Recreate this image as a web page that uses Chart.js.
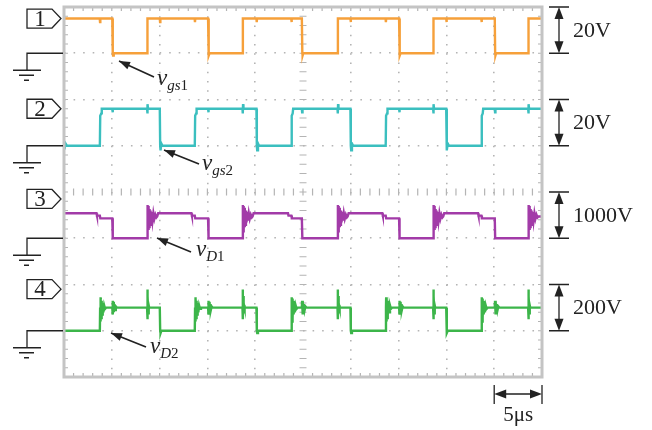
<!DOCTYPE html>
<html>
<head>
<meta charset="utf-8">
<script src="https://cdn.jsdelivr.net/npm/chart.js@4.4.0/dist/chart.umd.min.js"></script>
<style>
  body { margin: 0; background: #fff; }
  #wrap { width: 652px; height: 430px; position: relative; }
</style>
</head>
<body>
<div id="wrap"><canvas id="scope"></canvas></div>
<script>
// time axis: 10 div x 5us, vertical: 8 div
var timeTicks = [0, 5, 10, 15, 20, 25, 30, 35, 40, 45, 50];
var channelNames = ["1", "2", "3", "4"];
var scaleLabels = ["20V", "20V", "1000V", "200V"];
var voltsPerDiv = [20, 20, 1000, 200];
var groundDiv = [7, 5, 3, 1];
var markerDiv = [7.75, 5.8, 3.85, 1.9];
var colors = ["#F6A03A", "#3BBFBF", "#A23BA8", "#3CB54A"];

// [time us, volts]
var vgs1 = [
  [0,15],[3.74,15],[3.77,13.5],[3.8,15],
  [5.05,15],[5.1,0],[5.13,-1],[5.2,0],[8.69,0],[8.73,15],
  [10.02,15],[10.05,13.5],[10.08,15],
  [13.67,15],[13.7,13.5],[13.73,15],
  [15.07,15],[15.12,0],[15.15,-1],[15.22,0],[18.67,0],[18.71,15],
  [20.13,15],[20.16,13.5],[20.19,15],
  [23.77,15],[23.8,13.5],[23.83,15],
  [24.88,15],[24.93,0],[24.96,-1],[25.03,0],[28.61,0],[28.65,15],
  [29.96,15],[29.99,13.5],[30.02,15],
  [33.64,15],[33.67,13.5],[33.7,15],
  [35.05,15],[35.1,0],[35.13,-1],[35.2,0],[38.61,0],[38.65,15],
  [39.98,15],[40.01,13.5],[40.04,15],
  [43.65,15],[43.68,13.5],[43.71,15],
  [45.06,15],[45.1,0],[45.13,-1],[45.2,0],[48.55,0],[48.59,15],[50,15]
];

var vgs2 = [
  [0,0],[0.05,-1.5],[0.15,1],[0.3,0],
  [3.75,0],[3.79,13],[3.9,14],[3.95,16],
  [5.05,16],[5.08,14.5],[5.12,16],
  [8.69,16],[8.72,14],[8.75,18],[8.79,16],
  [10.02,16],[10.06,0],[10.1,-2],[10.18,1],[10.3,0],
  [13.68,0],[13.72,13],[13.82,14],[13.87,16],
  [15.07,16],[15.1,14.5],[15.14,16],
  [18.67,16],[18.7,14],[18.73,18],[18.77,16],
  [20.13,16],[20.17,0],[20.21,-2],[20.29,1],[20.4,0],
  [23.78,0],[23.82,13],[23.92,14],[23.97,16],
  [24.88,16],[24.91,14.5],[24.95,16],
  [28.61,16],[28.64,14],[28.67,18],[28.71,16],
  [29.96,16],[30.0,0],[30.04,-2],[30.12,1],[30.25,0],
  [33.65,0],[33.69,13],[33.79,14],[33.84,16],
  [35.05,16],[35.08,14.5],[35.12,16],
  [38.61,16],[38.64,14],[38.67,18],[38.71,16],
  [39.98,16],[40.02,0],[40.06,-2],[40.14,1],[40.27,0],
  [43.66,0],[43.7,13],[43.8,14],[43.85,16],
  [45.06,16],[45.09,14.5],[45.13,16],
  [48.55,16],[48.58,14],[48.61,18],[48.65,16],
  [50,16]
];

var vD1 = [
  [0,540],[3.4,540],[3.45,490],[3.75,490],[3.8,430],[5.05,430],[5.1,0],
  [8.69,0],[8.72,300],[8.74,720],[8.77,150],[8.8,700],[8.83,180],[8.87,660],[8.91,240],[8.95,630],[9.0,290],[9.05,600],[9.11,340],[9.18,570],[9.26,380],[9.35,540],[9.45,420],[9.56,510],[9.67,450],[9.75,470],[9.85,540],
  [13.33,540],[13.38,490],[13.68,490],[13.73,430],[15.07,430],[15.12,0],
  [18.67,0],[18.7,300],[18.72,720],[18.75,150],[18.78,700],[18.81,180],[18.85,660],[18.89,240],[18.93,630],[18.98,290],[19.03,600],[19.09,340],[19.16,570],[19.24,380],[19.33,540],[19.43,420],[19.54,510],[19.65,450],[19.73,470],[19.83,540],
  [23.43,540],[23.48,490],[23.78,490],[23.83,430],[24.88,430],[24.93,0],
  [28.61,0],[28.64,300],[28.66,720],[28.69,150],[28.72,700],[28.75,180],[28.79,660],[28.83,240],[28.87,630],[28.92,290],[28.97,600],[29.03,340],[29.1,570],[29.18,380],[29.27,540],[29.37,420],[29.48,510],[29.59,450],[29.67,470],[29.77,540],
  [33.3,540],[33.35,490],[33.65,490],[33.7,430],[35.05,430],[35.1,0],
  [38.61,0],[38.64,300],[38.66,720],[38.69,150],[38.72,700],[38.75,180],[38.79,660],[38.83,240],[38.87,630],[38.92,290],[38.97,600],[39.03,340],[39.1,570],[39.18,380],[39.27,540],[39.37,420],[39.48,510],[39.59,450],[39.67,470],[39.77,540],
  [43.31,540],[43.36,490],[43.66,490],[43.71,430],[45.06,430],[45.1,0],
  [48.55,0],[48.58,300],[48.6,720],[48.63,150],[48.66,700],[48.69,180],[48.73,660],[48.77,240],[48.81,630],[48.86,290],[48.91,600],[48.97,340],[49.04,570],[49.12,380],[49.21,540],[49.31,420],[49.42,510],[49.53,450],[49.61,470],[50,470]
];

var vD2 = [
  [0,0],
  [3.75,0],[3.78,100],[3.8,145],[3.83,40],[3.86,140],[3.9,55],[3.94,130],[3.99,70],[4.05,120],[4.12,80],[4.2,110],[4.3,95],[4.4,100],
  [5.05,100],[5.08,130],[5.12,70],[5.16,125],[5.21,80],[5.27,115],[5.34,90],[5.42,105],[5.52,100],
  [8.69,100],[8.71,178],[8.74,50],[8.77,150],[8.81,75],[8.86,110],[8.91,100],
  [10.02,100],[10.06,0],[10.1,-10],[10.18,0],
  [13.68,0],[13.71,100],[13.73,145],[13.76,40],[13.79,140],[13.83,55],[13.87,130],[13.92,70],[13.98,120],[14.05,80],[14.13,110],[14.23,95],[14.33,100],
  [15.07,100],[15.1,130],[15.14,70],[15.18,125],[15.23,80],[15.29,115],[15.36,90],[15.44,105],[15.54,100],
  [18.67,100],[18.69,178],[18.72,50],[18.75,150],[18.79,75],[18.84,110],[18.89,100],
  [20.13,100],[20.17,0],[20.21,-10],[20.29,0],
  [23.78,0],[23.81,100],[23.83,145],[23.86,40],[23.89,140],[23.93,55],[23.97,130],[24.02,70],[24.08,120],[24.15,80],[24.23,110],[24.33,95],[24.43,100],
  [24.88,100],[24.91,130],[24.95,70],[24.99,125],[25.04,80],[25.1,115],[25.17,90],[25.25,105],[25.35,100],
  [28.61,100],[28.63,178],[28.66,50],[28.69,150],[28.73,75],[28.78,110],[28.83,100],
  [29.96,100],[30.0,0],[30.04,-10],[30.12,0],
  [33.65,0],[33.68,100],[33.7,145],[33.73,40],[33.76,140],[33.8,55],[33.84,130],[33.89,70],[33.95,120],[34.02,80],[34.1,110],[34.2,95],[34.3,100],
  [35.05,100],[35.08,130],[35.12,70],[35.16,125],[35.21,80],[35.27,115],[35.34,90],[35.42,105],[35.52,100],
  [38.61,100],[38.63,178],[38.66,50],[38.69,150],[38.73,75],[38.78,110],[38.83,100],
  [39.98,100],[40.02,0],[40.06,-10],[40.14,0],
  [43.66,0],[43.69,100],[43.71,145],[43.74,40],[43.77,140],[43.81,55],[43.85,130],[43.9,70],[43.96,120],[44.03,80],[44.11,110],[44.21,95],[44.31,100],
  [45.06,100],[45.09,130],[45.13,70],[45.17,125],[45.22,80],[45.28,115],[45.35,90],[45.43,105],[45.53,100],
  [48.55,100],[48.57,178],[48.6,50],[48.63,150],[48.67,75],[48.72,110],[48.77,100],
  [50,100]
];

var traces = [vgs1, vgs2, vD1, vD2];
var serif = '"Liberation Serif", "Times New Roman", serif';
var gridGray = "#b4b4b4";

function toDiv(pts, i) {
  return pts.map(function (p) { return { x: p[0], y: groundDiv[i] + p[1] / voltsPerDiv[i] }; });
}

function head(ctx, x1, y1, x2, y2, len, w) {
  var a = Math.atan2(y2 - y1, x2 - x1);
  ctx.beginPath();
  ctx.moveTo(x2, y2);
  ctx.lineTo(x2 - len * Math.cos(a) + w * Math.sin(a), y2 - len * Math.sin(a) - w * Math.cos(a));
  ctx.lineTo(x2 - len * Math.cos(a) - w * Math.sin(a), y2 - len * Math.sin(a) + w * Math.cos(a));
  ctx.closePath();
  ctx.fill();
}

function pointer(ctx, x1, y1, x2, y2) {
  ctx.beginPath(); ctx.moveTo(x1, y1); ctx.lineTo(x2, y2); ctx.stroke();
  head(ctx, x1, y1, x2, y2, 11, 4);
}

function vlabel(ctx, x, y, sub, num) {
  ctx.font = "italic 23px " + serif;
  ctx.fillText("v", x, y);
  var w = ctx.measureText("v").width;
  ctx.font = "italic 15px " + serif;
  ctx.fillText(sub, x + w, y + 5);
  var w2 = ctx.measureText(sub).width;
  ctx.font = "15px " + serif;
  ctx.fillText(num, x + w + w2, y + 5);
}

var scopeDecor = {
  id: "scopeDecor",
  beforeDatasetsDraw: function (chart) {
    var ctx = chart.ctx, a = chart.chartArea, x = chart.scales.x, y = chart.scales.y;
    var yc = y.getPixelForValue(4), xc = x.getPixelForValue(25);
    ctx.save();
    ctx.strokeStyle = gridGray;
    ctx.lineWidth = 1.2;
    ctx.beginPath();
    for (var t = 0; t <= 50; t += 1) {
      var px = x.getPixelForValue(t);
      ctx.moveTo(px, yc - 3.5); ctx.lineTo(px, yc + 3.5);
      ctx.moveTo(px, a.top); ctx.lineTo(px, a.top + 4);
      ctx.moveTo(px, a.bottom); ctx.lineTo(px, a.bottom - 4);
    }
    for (var k = 0; k <= 40; k++) {
      var py = y.getPixelForValue(k * 0.2);
      ctx.moveTo(xc - 3.5, py); ctx.lineTo(xc + 3.5, py);
      ctx.moveTo(a.left, py); ctx.lineTo(a.left + 4, py);
      ctx.moveTo(a.right, py); ctx.lineTo(a.right - 4, py);
    }
    ctx.stroke();
    ctx.restore();
  },
  afterDraw: function (chart) {
    var ctx = chart.ctx, a = chart.chartArea, x = chart.scales.x, y = chart.scales.y;
    ctx.save();
    // frame
    ctx.strokeStyle = "#c4c4c4";
    ctx.lineWidth = 3;
    ctx.strokeRect(a.left, a.top, a.width, a.height);

    ctx.strokeStyle = "#222";
    ctx.fillStyle = "#222";
    ctx.lineWidth = 1.3;
    for (var i = 0; i < 4; i++) {
      // channel marker
      var c = y.getPixelForValue(markerDiv[i]);
      ctx.beginPath();
      ctx.moveTo(27, c - 9.5); ctx.lineTo(52, c - 9.5); ctx.lineTo(61, c);
      ctx.lineTo(52, c + 9.5); ctx.lineTo(27, c + 9.5); ctx.closePath();
      ctx.fillStyle = "#fff"; ctx.fill(); ctx.stroke();
      ctx.fillStyle = "#222";
      ctx.font = "23px " + serif;
      ctx.textAlign = "center"; ctx.textBaseline = "middle";
      ctx.fillText(channelNames[i], 40, c + 1);

      // ground symbol
      var g = y.getPixelForValue(groundDiv[i]);
      ctx.beginPath();
      ctx.moveTo(a.left - 1, g); ctx.lineTo(27, g); ctx.lineTo(27, g + 17);
      ctx.moveTo(13, g + 17); ctx.lineTo(41, g + 17);
      ctx.moveTo(19, g + 22); ctx.lineTo(34, g + 22);
      ctx.moveTo(24, g + 27); ctx.lineTo(29, g + 27);
      ctx.stroke();

      // volts/div bar
      var top = y.getPixelForValue(groundDiv[i] + 1);
      ctx.beginPath();
      ctx.moveTo(549, top); ctx.lineTo(569, top);
      ctx.moveTo(549, g); ctx.lineTo(569, g);
      ctx.moveTo(559, top + 8); ctx.lineTo(559, g - 8);
      ctx.stroke();
      head(ctx, 559, g, 559, top, 12, 4.5);
      head(ctx, 559, top, 559, g, 12, 4.5);
      ctx.font = "22px " + serif;
      ctx.textAlign = "left"; ctx.textBaseline = "middle";
      ctx.fillText(scaleLabels[i], 573, (top + g) / 2 + 1);
    }

    // time/div bar
    var x0 = x.getPixelForValue(45), x1 = x.getPixelForValue(50);
    ctx.beginPath();
    ctx.moveTo(x0, 385); ctx.lineTo(x0, 404);
    ctx.moveTo(x1, 385); ctx.lineTo(x1, 404);
    ctx.moveTo(x0 + 8, 394); ctx.lineTo(x1 - 8, 394);
    ctx.stroke();
    head(ctx, x1, 394, x0, 394, 12, 4.5);
    head(ctx, x0, 394, x1, 394, 12, 4.5);
    ctx.font = "21px " + serif;
    ctx.textAlign = "center"; ctx.textBaseline = "alphabetic";
    ctx.fillText("5\u03bcs", (x0 + x1) / 2, 421);

    // trace labels
    ctx.lineWidth = 1.6;
    pointer(ctx, 154, 77, 119, 61);
    pointer(ctx, 199, 164, 164, 150);
    pointer(ctx, 191, 252, 157, 238);
    pointer(ctx, 146, 347, 111, 333);
    ctx.textAlign = "left"; ctx.textBaseline = "alphabetic";
    vlabel(ctx, 157, 85, "gs", "1");
    vlabel(ctx, 202, 170, "gs", "2");
    vlabel(ctx, 196, 256, "D", "1");
    vlabel(ctx, 150, 353, "D", "2");
    ctx.restore();
  }
};

new Chart("scope", {
  type: "line",
  data: {
    datasets: traces.map(function (pts, i) {
      return {
        data: toDiv(pts, i),
        borderColor: colors[i],
        borderWidth: 2.4,
        pointRadius: 0,
        tension: 0
      };
    })
  },
  options: {
    responsive: true,
    maintainAspectRatio: false,
    animation: false,
    layout: { padding: { left: 64, top: 7, right: 110, bottom: 53 } },
    plugins: { legend: { display: false }, tooltip: { enabled: false } },
    scales: {
      x: {
        type: "linear", min: 0, max: 50,
        afterBuildTicks: function (s) { s.ticks = timeTicks.map(function (v) { return { value: v }; }); },
        ticks: { display: false },
        grid: {
          drawTicks: false, lineWidth: 1.6,
          color: function (c) { return c.tick && c.tick.value === 25 ? "rgba(0,0,0,0)" : gridGray; }
        },
        border: { display: false, dash: [1.6, 7.65] }
      },
      y: {
        type: "linear", min: 0, max: 8,
        ticks: { display: false, stepSize: 1 },
        grid: {
          drawTicks: false, lineWidth: 1.6,
          color: function (c) { return c.tick && c.tick.value === 4 ? "rgba(0,0,0,0)" : gridGray; }
        },
        border: { display: false, dash: [1.6, 7.96] }
      }
    }
  },
  plugins: [scopeDecor]
});
</script>
</body>
</html>
